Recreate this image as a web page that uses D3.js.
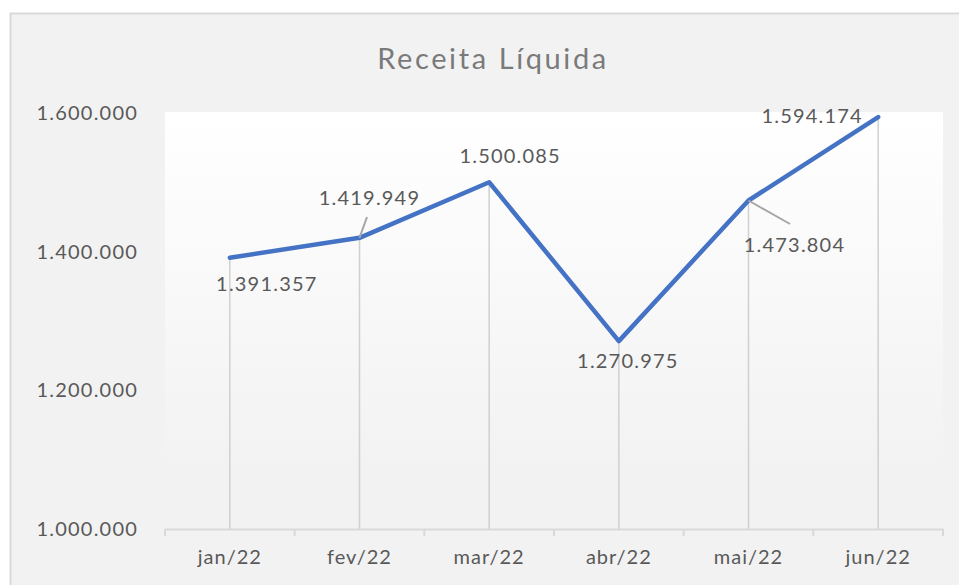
<!DOCTYPE html>
<html>
<head>
<meta charset="utf-8">
<script src="https://cdn.jsdelivr.net/npm/d3@7"></script>
<style>
  body { margin: 0; background: #ffffff; }
  text { font-family: Lato, "Open Sans", sans-serif; }
</style>
</head>
<body>
<div id="chart"></div>
<script>
// Data
var months = ["jan/22", "fev/22", "mar/22", "abr/22", "mai/22", "jun/22"];
var receita = [1391357, 1419949, 1500085, 1270975, 1473804, 1594174];
var yTicks = [1000000, 1200000, 1400000, 1600000];

// label placement (offsets from the point, layout only)
var labelOffsets = [
    { dx: 37, dy: 25 },
    { dx: 10, dy: -41 },
    { dx: 21, dy: -27 },
    { dx: 9, dy: 19 },
    { dx: 46, dy: 44 },
    { dx: -66, dy: -2 }
];

var svgWidth = 959;
var svgHeight = 585;

var plot = { left: 165, right: 943, top: 113, bottom: 529 };

var svg = d3.select("#chart")
    .append("svg")
    .attr("width", svgWidth)
    .attr("height", svgHeight);

// gradient for the plot area
var defs = svg.append("defs");
var grad = defs.append("linearGradient")
    .attr("id", "plotGrad")
    .attr("x1", 0).attr("y1", 0)
    .attr("x2", 0).attr("y2", 1);
grad.append("stop").attr("offset", "0%").attr("stop-color", "#ffffff");
grad.append("stop").attr("offset", "85%").attr("stop-color", "#f2f2f2");
grad.append("stop").attr("offset", "100%").attr("stop-color", "#f2f2f2");

// chart area
svg.append("rect")
    .attr("x", 10.5)
    .attr("y", 13.5)
    .attr("width", 960)
    .attr("height", 600)
    .attr("fill", "#f2f2f2")
    .attr("stroke", "#d9d9d9")
    .attr("stroke-width", 2);

// plot area
svg.append("rect")
    .attr("x", plot.left)
    .attr("y", plot.top - 1)
    .attr("width", plot.right - plot.left)
    .attr("height", plot.bottom - plot.top + 1)
    .attr("fill", "url(#plotGrad)");

// Title
svg.append("text")
    .attr("x", 493)
    .attr("y", 69)
    .attr("text-anchor", "middle")
    .attr("fill", "#7a7a7a")
    .style("font-size", "29px")
    .style("letter-spacing", "2.6px")
    .text("Receita Líquida");

// Scales
var xScale = d3.scaleBand()
    .domain(months)
    .range([plot.left, plot.right]);

var yScale = d3.scaleLinear()
    .domain([1000000, 1600000])
    .range([plot.bottom, plot.top]);

var fmt = d3.formatLocale({ decimal: ",", thousands: ".", grouping: [3], currency: ["R$", ""] }).format(",.0f");

var cx = d => xScale(d) + xScale.bandwidth() / 2;

// Y axis (labels only)
var leftAxis = d3.axisLeft(yScale)
    .tickValues(yTicks)
    .tickFormat(fmt)
    .tickSize(0)
    .tickPadding(0);

var yAxis = svg.append("g")
    .attr("transform", "translate(138, 0)")
    .call(leftAxis);
yAxis.select(".domain").remove();
yAxis.selectAll("text")
    .attr("fill", "#595959")
    .style("font-size", "20px")
    .style("letter-spacing", "1.2px")
    .style("font-family", "Lato, sans-serif");

// drop lines
svg.append("g").selectAll("line")
    .data(receita)
    .enter()
    .append("line")
    .attr("x1", (d, i) => cx(months[i]))
    .attr("x2", (d, i) => cx(months[i]))
    .attr("y1", d => yScale(d))
    .attr("y2", plot.bottom)
    .attr("stroke", "#d0d0d0")
    .attr("stroke-width", 1.5);

// X axis
var bottomAxis = d3.axisBottom(xScale)
    .tickSize(0)
    .tickPadding(21);

var xAxis = svg.append("g")
    .attr("transform", `translate(0, ${plot.bottom})`)
    .call(bottomAxis);
xAxis.select(".domain")
    .attr("stroke", "#d9d9d9")
    .attr("stroke-width", 2);
xAxis.selectAll("text")
    .attr("fill", "#595959")
    .style("font-size", "20px")
    .style("letter-spacing", "1px")
    .style("font-family", "Lato, sans-serif");

// boundary tick marks
var edges = months.map(m => xScale(m)).concat([plot.right]);
svg.append("g").selectAll("line")
    .data(edges)
    .enter()
    .append("line")
    .attr("x1", d => d)
    .attr("x2", d => d)
    .attr("y1", plot.bottom)
    .attr("y2", plot.bottom + 7)
    .attr("stroke", "#d9d9d9")
    .attr("stroke-width", 2);

// the line
var line = d3.line()
    .x((d, i) => cx(months[i]))
    .y(d => yScale(d));

svg.append("path")
    .datum(receita)
    .attr("d", line)
    .attr("fill", "none")
    .attr("stroke", "#4472c4")
    .attr("stroke-width", 4.5)
    .attr("stroke-linejoin", "round")
    .attr("stroke-linecap", "round");

// leader lines
var leaders = [
    { i: 1, x2: 367, y2: 217 },
    { i: 4, x2: 790, y2: 224 }
];
svg.append("g").selectAll("line")
    .data(leaders)
    .enter()
    .append("line")
    .attr("x1", d => cx(months[d.i]))
    .attr("y1", d => yScale(receita[d.i]))
    .attr("x2", d => d.x2)
    .attr("y2", d => d.y2)
    .attr("stroke", "#a6a6a6")
    .attr("stroke-width", 2);

// data labels
svg.append("g").selectAll("text")
    .data(receita)
    .enter()
    .append("text")
    .attr("x", (d, i) => cx(months[i]) + labelOffsets[i].dx)
    .attr("y", (d, i) => yScale(d) + labelOffsets[i].dy)
    .attr("text-anchor", "middle")
    .attr("dominant-baseline", "central")
    .attr("fill", "#595959")
    .style("font-size", "20px")
    .style("letter-spacing", "1.2px")
    .text(d => fmt(d));
</script>
</body>
</html>
